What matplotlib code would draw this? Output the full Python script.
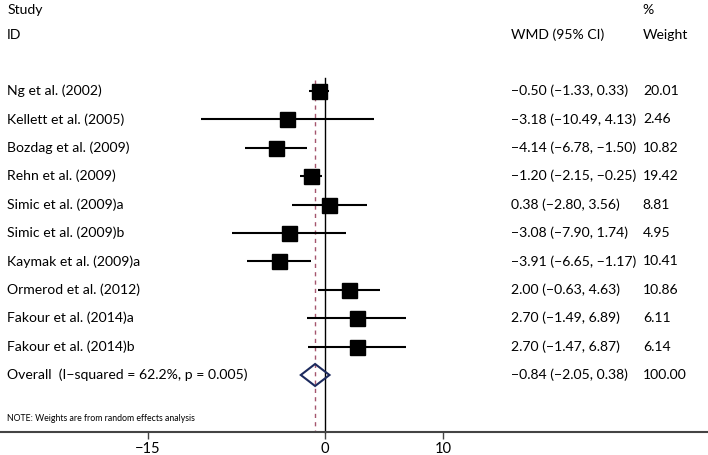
import matplotlib
matplotlib.use("Agg")
import matplotlib.pyplot as plt
from matplotlib.patches import Polygon

studies = ["Ng et al. (2002)", "Kellett et al. (2005)", "Bozdag et al. (2009)",
           "Rehn et al. (2009)", "Simic et al. (2009)a", "Simic et al. (2009)b",
           "Kaymak et al. (2009)a", "Ormerod et al. (2012)", "Fakour et al. (2014)a",
           "Fakour et al. (2014)b"]
wmd = [-0.50, -3.18, -4.14, -1.20, 0.38, -3.08, -3.91, 2.00, 2.70, 2.70]
lower = [-1.33, -10.49, -6.78, -2.15, -2.80, -7.90, -6.65, -0.63, -1.49, -1.47]
upper = [0.33, 4.13, -1.50, -0.25, 3.56, 1.74, -1.17, 4.63, 6.89, 6.87]
weights = [20.01, 2.46, 10.82, 19.42, 8.81, 4.95, 10.41, 10.86, 6.11, 6.14]
overall_label = "Overall  (I\u2212squared = 62.2%, p = 0.005)"
overall = (-0.84, -2.05, 0.38)
overall_weight = 100.00
xticks = [-15, 0, 10]
xtick_labels = ["\u221215", "0", "10"]

plt.rcParams['font.family'] = ['Lato', 'DejaVu Sans']
W, H = 708, 455
fig = plt.figure(figsize=(W / 100, H / 100), dpi=100)
ax = fig.add_axes([0, 0, 1, 1])

px_per_unit = 11.8
x0_px = 325
row0_px, row_step = 91, 28.4
ax.set_xlim(-x0_px / px_per_unit, (W - x0_px) / px_per_unit)
ax.set_ylim((H - row0_px) / row_step, -row0_px / row_step)

def py(p):
    return (p - row0_px) / row_step

def fmt(v):
    s = f"{v:.2f}"
    return s.replace("-", "\u2212")

fs = 10.1
tr = ax.get_yaxis_transform()
xs, xw, xp = 0.010, 0.722, 0.908
n = len(studies)
for i in range(n):
    ax.plot([lower[i], upper[i]], [i, i], color="black", lw=1.5, solid_capstyle="butt", zorder=3)
    ax.plot([wmd[i]], [i], marker="s", ms=10.8, color="black", zorder=4)
    ax.text(xs, i, studies[i], transform=tr, va="center", fontsize=fs)
    ax.text(xw, i, f"{fmt(wmd[i])} ({fmt(lower[i])}, {fmt(upper[i])})",
            transform=tr, va="center", fontsize=fs)
    ax.text(xp, i, f"{weights[i]:.2f}", transform=tr, va="center", fontsize=fs)

# overall
oi = n
est, lo, hi = overall
dh = 11 / row_step
diamond = Polygon([[lo, oi], [est, oi - dh], [hi, oi], [est, oi + dh]], closed=True,
                  fill=False, edgecolor="#1c2a5e", lw=1.5, zorder=5)
ax.add_patch(diamond)
ax.text(xs, oi, overall_label, transform=tr, va="center", fontsize=fs)
ax.text(xw, oi, f"{fmt(est)} ({fmt(lo)}, {fmt(hi)})", transform=tr, va="center", fontsize=fs)
ax.text(xp, oi, f"{overall_weight:.2f}", transform=tr, va="center", fontsize=fs)

# headers
ax.text(xs, py(10), "Study", transform=tr, va="center", fontsize=fs)
ax.text(xs, py(35), "ID", transform=tr, va="center", fontsize=fs)
ax.text(xw, py(35), "WMD (95% CI)", transform=tr, va="center", fontsize=fs)
ax.text(xp, py(10), "%", transform=tr, va="center", fontsize=fs)
ax.text(xp, py(35), "Weight", transform=tr, va="center", fontsize=fs)
ax.text(xs, py(418), "NOTE: Weights are from random effects analysis",
        transform=tr, va="center", fontsize=6.3)

# reference lines
axis_y = py(432)
ax.plot([0, 0], [py(78), axis_y], color="black", lw=1.0, zorder=2)
ax.plot([est, est], [py(80), axis_y], color="#a5566e", lw=1.0, ls=(0, (3, 3)), zorder=2)

# bottom axis
for s in ["top", "left", "right"]:
    ax.spines[s].set_visible(False)
ax.spines["bottom"].set_position(("data", axis_y))
ax.spines["bottom"].set_color("#444444")
ax.spines["bottom"].set_linewidth(1.5)
ax.set_xticks(xticks)
ax.set_xticklabels(xtick_labels, fontsize=fs + 0.5)
ax.tick_params(axis="x", direction="out", length=5, width=1, color="#444444", pad=2)
ax.set_yticks([])

fig.savefig("out.png", dpi=100)
